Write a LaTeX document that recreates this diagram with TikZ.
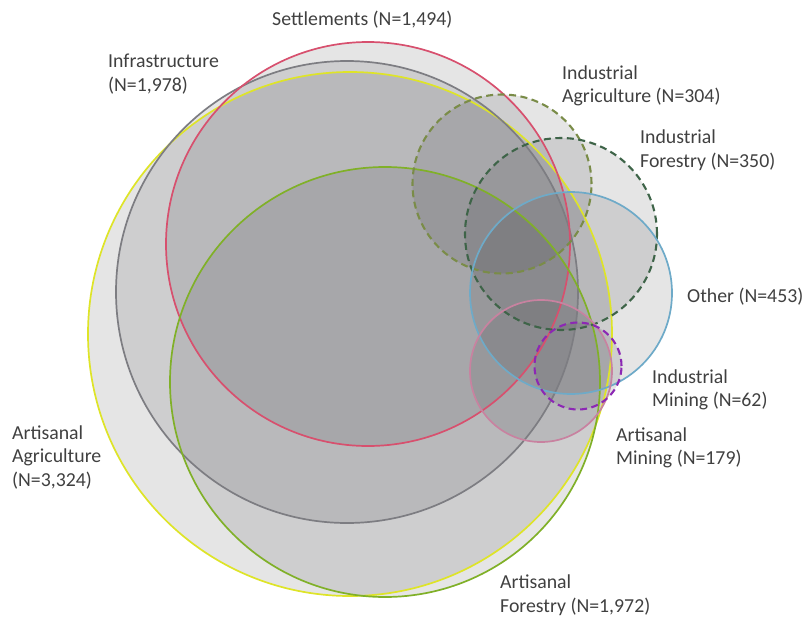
\documentclass[tikz,border=0pt]{standalone}
\usepackage{fontspec}
\setmainfont{Carlito}
\definecolor{aagr}{RGB}{222,228,40}
\definecolor{infra}{RGB}{125,125,130}
\definecolor{settl}{RGB}{215,80,110}
\definecolor{afor}{RGB}{128,176,40}
\definecolor{iagr}{RGB}{122,140,72}
\definecolor{ifor}{RGB}{62,100,72}
\definecolor{oth}{RGB}{110,170,200}
\definecolor{amin}{RGB}{200,130,160}
\definecolor{imin}{RGB}{140,40,180}
\definecolor{shade}{RGB}{38,38,44}
\definecolor{lbl}{RGB}{64,64,64}
\begin{document}
\begin{tikzpicture}[
            set/.style={circle, fill=shade, fill opacity=.12, inner sep=0, outer sep=0},
            ring/.style={line width=1.7pt},
            dring/.style={ring, line width=2.1pt, dash pattern=on 7pt off 4.5pt},
            lab/.style={anchor=west, align=left, text=lbl, font=\fontsize{19.8}{23.5}\selectfont, inner sep=0},
        ]
        \useasboundingbox (0pt,0pt) rectangle (803pt,-624pt);
        % shaded sets
        \node[set, minimum size=524pt] (AA) at (350pt,-334pt) {};
        \node[set, minimum size=462pt] (IN) at (347pt,-292pt) {};
        \node[set, minimum size=404pt] (SE) at (368pt,-244pt) {};
        \node[set, minimum size=430pt] (AF) at (385pt,-382pt) {};
        \node[set, minimum size=179pt] (IA) at (502pt,-184pt) {};
        \node[set, minimum size=192pt] (IF) at (561pt,-234pt) {};
        \node[set, minimum size=202pt] (OT) at (571pt,-293pt) {};
        \node[set, minimum size=142pt] (AM) at (541pt,-371pt) {};
        \node[set, minimum size=87pt] (IM) at (578pt,-366pt) {};
        % outlines
        \draw[ring, aagr] (AA.center) circle[radius=262pt];
        \draw[ring, infra] (IN.center) circle[radius=231pt];
        \draw[ring, settl] (SE.center) circle[radius=202pt];
        \draw[ring, afor] (AF.center) circle[radius=215pt];
        \draw[dring, iagr] (IA.center) circle[radius=89.5pt];
        \draw[dring, ifor] (IF.center) circle[radius=96pt];
        \draw[ring, oth] (OT.center) circle[radius=101pt];
        \draw[ring, amin] (AM.center) circle[radius=71pt];
        \draw[dring, imin] (IM.center) circle[radius=43.5pt];
        % labels
        \node[lab] (SEl) at (272pt,-20pt) {Settlements (N=1,494)};
        \node[lab] (INl) at (108pt,-74pt) {Infrastructure\\(N=1,978)};
        \node[lab] (IAl) at (562pt,-86pt) {Industrial\\Agriculture (N=304)};
        \node[lab] (IFl) at (640pt,-150pt) {Industrial\\Forestry (N=350)};
        \node[lab] (OTl) at (687pt,-297pt) {Other (N=453)};
        \node[lab] (IMl) at (652pt,-390pt) {Industrial\\Mining (N=62)};
        \node[lab] (AMl) at (616pt,-448pt) {Artisanal\\Mining (N=179)};
        \node[lab] (AAl) at (12pt,-457pt) {Artisanal\\Agriculture\\(N=3,324)};
        \node[lab] (AFl) at (500pt,-595pt) {Artisanal\\Forestry (N=1,972)};
    \end{tikzpicture}
\end{document}
